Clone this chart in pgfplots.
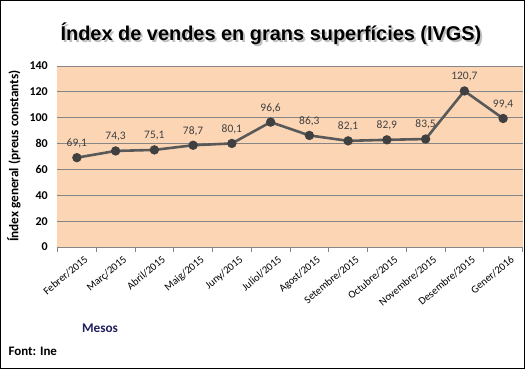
\documentclass[border=0pt]{standalone}
\usepackage{pgfplots}
\pgfplotsset{compat=1.18}
\usepackage{fontspec}
\setmainfont{Carlito}
\newfontfamily\titlefont{Liberation Sans}
\definecolor{bgpeach}{HTML}{FCD5B5}
\definecolor{linegray}{HTML}{595959}
\definecolor{markgray}{HTML}{404040}
\definecolor{gridgray}{HTML}{868686}
\definecolor{navy}{HTML}{1F1F5F}
\begin{document}
\begin{tikzpicture}
\useasboundingbox (0,0) rectangle (525bp,369bp);
\fill[white] (0,0) rectangle (525bp,369bp);
\begin{axis}[
  at={(57.5bp,122bp)}, anchor=south west,
  scale only axis, width=465bp, height=181bp,
  xmin=-0.5, xmax=11.5, ymin=0, ymax=140,
  ytick={0,20,...,140},
  axis background/.style={fill=bgpeach},
  ymajorgrids, grid style={gridgray, line width=0.8bp},
  axis x line*=bottom, axis y line*=left,
  y axis line style={draw=none},
  major y tick style={draw=none},
  x axis line style={gridgray, line width=0.8bp},
  xtick={0,...,11},
  xticklabels={Febrer/2015,Març/2015,Abril/2015,Maig/2015,Juny/2015,Juliol/2015,Agost/2015,Setembre/2015,Octubre/2015,Novembre/2015,Desembre/2015,Gener/2016},
  major x tick style={draw=none},
  minor xtick={-0.5,0.5,...,11.5},
  minor x tick style={gridgray, line width=0.8bp},
  minor tick length=5bp,
  tick align=outside,
  xticklabel style={rotate=40, anchor=north east, font=\fontsize{10.7}{12}\selectfont, text=black, inner sep=1bp, yshift=-6bp, xshift=4bp},
  yticklabel style={font=\bfseries\fontsize{12}{14}\selectfont, text=black, xshift=-2bp},
  clip=false,
  /pgf/number format/assume math mode=true,
]
\addplot[linegray, line width=2.6bp, mark=*, mark size=3.3bp, mark options={fill=markgray, draw=markgray},
  nodes near coords, every node near coord/.append style={font=\fontsize{11.5}{13}\selectfont, text=markgray, yshift=5bp, /pgf/number format/.cd, use comma, fixed, fixed zerofill, precision=1}]
coordinates {(0,69.1) (1,74.3) (2,75.1) (3,78.7) (4,80.1) (5,96.6) (6,86.3) (7,82.1) (8,82.9) (9,83.5) (10,120.7) (11,99.4)};
\end{axis}
\node[rotate=90, font=\bfseries\fontsize{13.3}{15}\selectfont] at (14bp,213bp) {Índex general (preus constants)};
\node[font=\bfseries\fontsize{13.3}{15}\selectfont, text=navy] at (100bp,41bp) {Mesos};
\node[font=\bfseries\fontsize{13}{15}\selectfont, anchor=west] at (5bp,18bp) {Font: Ine};
\node[font=\titlefont\bfseries\fontsize{20}{24}\selectfont, text=black!25] at (273bp,333bp) {Índex de vendes en grans superfícies (IVGS)};
\node[font=\titlefont\bfseries\fontsize{20}{24}\selectfont] at (271bp,335bp) {Índex de vendes en grans superfícies (IVGS)};
\draw[line width=1.2bp] (0.6bp,0.6bp) rectangle (524.4bp,368.4bp);
\end{tikzpicture}
\end{document}
